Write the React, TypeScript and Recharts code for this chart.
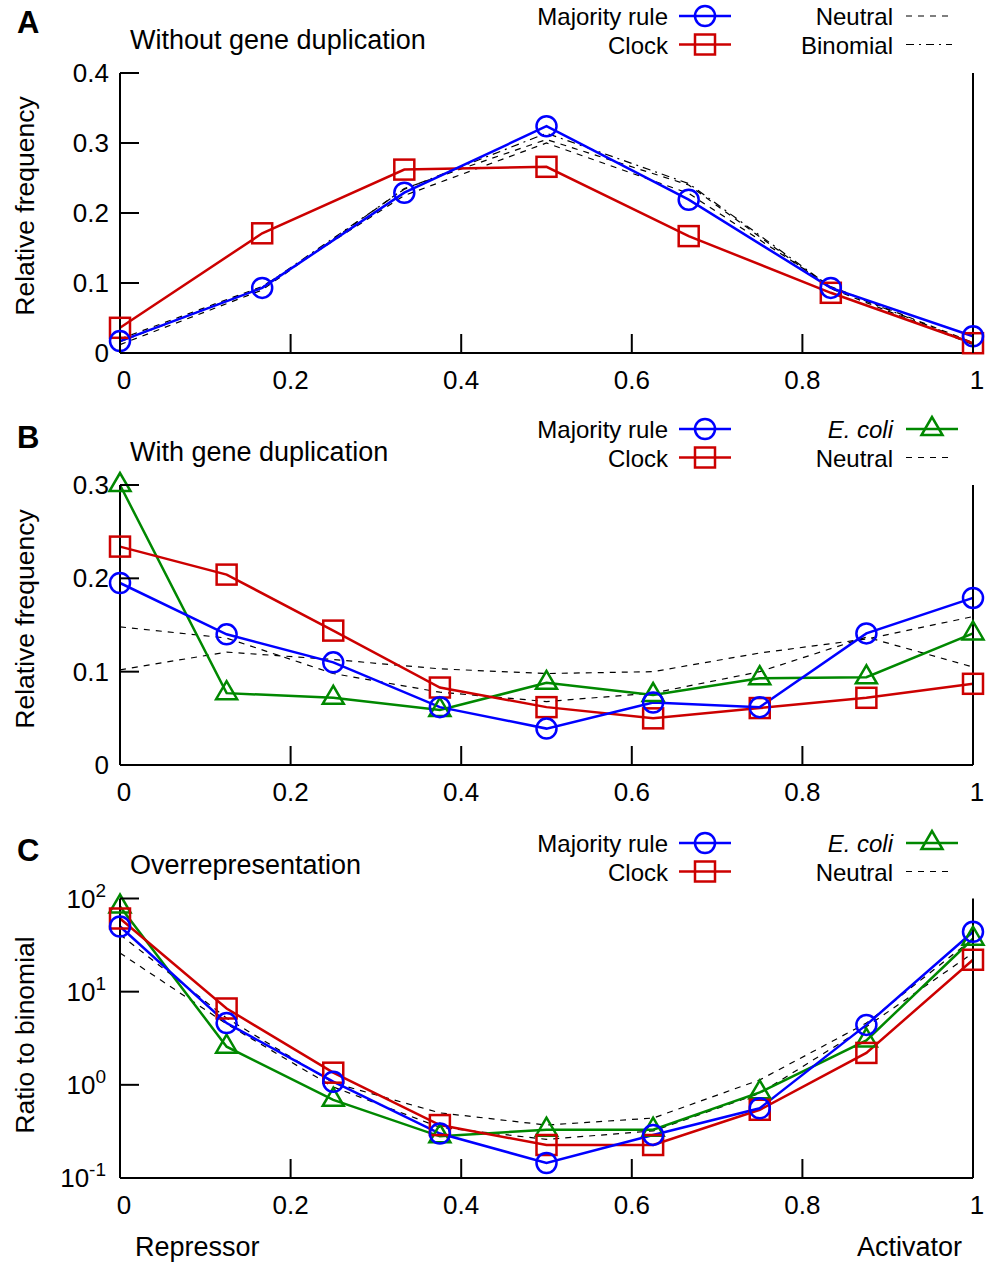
import React from "react";
import { LineChart, Line, XAxis, YAxis } from "recharts";

// panel A: 7 positions, panels B and C: 9 positions
const xA = [0, 0.1667, 0.3333, 0.5, 0.6667, 0.8333, 1];
const majorityA = [0.017, 0.093, 0.229, 0.324, 0.219, 0.093, 0.024];
const clockA = [0.036, 0.171, 0.262, 0.266, 0.167, 0.086, 0.014];
const neutralA1 = [0.012, 0.09, 0.235, 0.305, 0.24, 0.092, 0.012];
const neutralA2 = [0.02, 0.095, 0.225, 0.3, 0.228, 0.095, 0.015];
const binomialA = [0.016, 0.094, 0.234, 0.314, 0.242, 0.094, 0.014];

const xBC = [0, 0.125, 0.25, 0.375, 0.5, 0.625, 0.75, 0.875, 1];
const majorityB = [0.195, 0.14, 0.11, 0.062, 0.039, 0.067, 0.062, 0.141, 0.179];
const clockB = [0.234, 0.204, 0.144, 0.083, 0.062, 0.05, 0.061, 0.072, 0.087];
const ecoliB = [0.3, 0.077, 0.072, 0.059, 0.088, 0.075, 0.093, 0.094, 0.141];
const neutralB1 = [0.148, 0.136, 0.098, 0.078, 0.068, 0.077, 0.1, 0.137, 0.105];
const neutralB2 = [0.102, 0.121, 0.113, 0.103, 0.098, 0.1, 0.12, 0.135, 0.159];

const majorityC = [50, 4.6, 1.08, 0.3, 0.145, 0.29, 0.56, 4.4, 44];
const clockC = [61, 6.6, 1.35, 0.37, 0.226, 0.226, 0.54, 2.2, 22];
const ecoliC = [82, 2.57, 0.69, 0.28, 0.33, 0.33, 0.83, 3.0, 37];
const neutralC1 = [41, 5.2, 1.05, 0.5, 0.37, 0.44, 1.13, 4.6, 37];
const neutralC2 = [26, 4.5, 0.95, 0.35, 0.26, 0.32, 0.81, 4.2, 26];

const xTicks = [0, 0.2, 0.4, 0.6, 0.8, 1];
const yTicksA = [0, 0.1, 0.2, 0.3, 0.4];
const yTicksB = [0, 0.1, 0.2, 0.3];
const yTicksC = [0.1, 1, 10, 100];

const BLUE = "#0000ff";
const RED = "#cc0000";
const GREEN = "#008800";
const FONT = "'Liberation Sans', Arial, Helvetica, sans-serif";

const dataA = xA.map((x, i) => ({
  x,
  majority: majorityA[i],
  clock: clockA[i],
  n1: neutralA1[i],
  n2: neutralA2[i],
  binom: binomialA[i],
}));

const dataB = xBC.map((x, i) => ({
  x,
  majority: majorityB[i],
  clock: clockB[i],
  ecoli: ecoliB[i],
  n1: neutralB1[i],
  n2: neutralB2[i],
}));

const dataC = xBC.map((x, i) => ({
  x,
  majority: majorityC[i],
  clock: clockC[i],
  ecoli: ecoliC[i],
  n1: neutralC1[i],
  n2: neutralC2[i],
}));

// marker shapes
const circle = (cx: number, cy: number, key?: any) => (
  <circle key={key} cx={cx} cy={cy} r={10} fill="none" stroke={BLUE} strokeWidth={2.5} />
);
const square = (cx: number, cy: number, key?: any) => (
  <rect key={key} x={cx - 10} y={cy - 10} width={20} height={20} fill="none" stroke={RED} strokeWidth={2.5} />
);
const triangle = (cx: number, cy: number, key?: any) => (
  <polygon
    key={key}
    points={`${cx},${cy - 12} ${cx - 10.5},${cy + 6} ${cx + 10.5},${cy + 6}`}
    fill="none"
    stroke={GREEN}
    strokeWidth={2.5}
  />
);

const dotOf = (shape: any) => (p: any) => shape(p.cx, p.cy, p.index);

const fmtX = (v: number) => (v === 0 ? "0" : v === 1 ? "1" : v.toFixed(1));
const fmtY = (v: number) => (v === 0 ? "0" : v.toFixed(1));

const BottomTick = (p: any) => {
  const v = p.payload.value;
  const shift = v === 0 || v === 1 ? 4 : 0;
  return (
    <g>
      <line x1={p.x} x2={p.x} y1={p.y} y2={p.y - 19} stroke="#000" strokeWidth={2} />
      <text x={p.x + shift} y={p.y + 36} textAnchor="middle" fontSize={26} fill="#000">
        {fmtX(v)}
      </text>
    </g>
  );
};

const LeftTick = (p: any) => (
  <g>
    <line x1={p.x} x2={p.x + 19} y1={p.y} y2={p.y} stroke="#000" strokeWidth={2} />
    <text x={p.x - 11} y={p.y + 9} textAnchor="end" fontSize={26} fill="#000">
      {fmtY(p.payload.value)}
    </text>
  </g>
);

const LogTick = (p: any) => {
  const e = Math.round(Math.log10(p.payload.value));
  return (
    <g>
      <line x1={p.x} x2={p.x + 19} y1={p.y} y2={p.y} stroke="#000" strokeWidth={2} />
      <text x={p.x - 14} y={p.y + 9} textAnchor="end" fontSize={26} fill="#000">
        10
        <tspan dy={-11} fontSize={19}>
          {e}
        </tspan>
      </text>
    </g>
  );
};

const RightTick = (p: any) => (
  <line x1={p.x} x2={p.x - 19} y1={p.y} y2={p.y} stroke="#000" strokeWidth={2} />
);

const axisLine = { stroke: "#000", strokeWidth: 2 };

function Panel({ top, height, mTop, mBottom, data, yDomain, yTicks, log, children }: any) {
  const scale = log ? "log" : "auto";
  return (
    <div style={{ position: "absolute", left: 0, top }}>
      <LineChart width={995} height={height} data={data} margin={{ top: mTop, right: 0, bottom: mBottom, left: 0 }}>
        <XAxis
          dataKey="x"
          type="number"
          domain={[0, 1]}
          ticks={xTicks}
          height={50}
          tickSize={0}
          tickMargin={0}
          tickLine={false}
          axisLine={axisLine}
          tick={BottomTick}
        />
        <XAxis xAxisId="t" orientation="top" dataKey="x" type="number" domain={[0, 1]} height={0} tick={false} tickLine={false} axisLine={axisLine} />
        <YAxis
          type="number"
          scale={scale}
          domain={yDomain}
          ticks={yTicks}
          width={120}
          tickSize={0}
          tickMargin={0}
          tickLine={false}
          axisLine={axisLine}
          tick={log ? LogTick : LeftTick}
        />
        <YAxis
          yAxisId="r"
          orientation="right"
          type="number"
          scale={scale}
          domain={yDomain}
          ticks={yTicks}
          width={22}
          tickSize={0}
          tickMargin={0}
          tickLine={false}
          axisLine={axisLine}
          tick={RightTick}
        />
        {children}
      </LineChart>
    </div>
  );
}

const dashed = (key: string, dash = "6 6") => (
  <Line
    key={key}
    dataKey={key}
    type="linear"
    stroke="#000"
    strokeWidth={1.2}
    strokeDasharray={dash}
    dot={false}
    activeDot={false}
    isAnimationActive={false}
  />
);

const solid = (key: string, color: string, shape: any) => (
  <Line
    key={key}
    dataKey={key}
    type="linear"
    stroke={color}
    strokeWidth={2.5}
    dot={dotOf(shape)}
    activeDot={false}
    isAnimationActive={false}
  />
);

function LegendItem({ y, textX, label, italic, sample }: any) {
  return (
    <g>
      <text x={textX} y={y + 9} textAnchor="end" fontSize={24} fontStyle={italic ? "italic" : "normal"}>
        {label}
      </text>
      {sample}
    </g>
  );
}

const markerSample = (y: number, x1: number, x2: number, color: string, shape: any) => (
  <g>
    <line x1={x1} x2={x2} y1={y} y2={y} stroke={color} strokeWidth={2.5} />
    {shape((x1 + x2) / 2, y)}
  </g>
);

const dashSample = (y: number, dash: string) => (
  <line x1={906} x2={952} y1={y} y2={y} stroke="#000" strokeWidth={1.2} strokeDasharray={dash} />
);

function Overlay() {
  const rows = [
    { off: 0, right: "binom" },
    { off: 413, right: "ecoli" },
    { off: 827, right: "ecoli" },
  ];
  return (
    <svg width={995} height={1262} style={{ position: "absolute", left: 0, top: 0, pointerEvents: "none" }} fontFamily={FONT}>
      <text x={17} y={33} fontSize={31} fontWeight="bold">A</text>
      <text x={17} y={448} fontSize={31} fontWeight="bold">B</text>
      <text x={17} y={861} fontSize={31} fontWeight="bold">C</text>

      <text x={130} y={49} fontSize={27}>Without gene duplication</text>
      <text x={130} y={461} fontSize={27}>With gene duplication</text>
      <text x={130} y={874} fontSize={27}>Overrepresentation</text>

      {rows.map((r, i) => (
        <g key={i}>
          <LegendItem y={r.off + 16} textX={668} label="Majority rule" sample={markerSample(r.off + 16, 679, 731, BLUE, circle)} />
          <LegendItem y={r.off + 44.5} textX={668} label="Clock" sample={markerSample(r.off + 44.5, 679, 731, RED, square)} />
          {r.right === "binom" ? (
            <>
              <LegendItem y={r.off + 16} textX={893} label="Neutral" sample={dashSample(r.off + 16, "6 6")} />
              <LegendItem y={r.off + 44.5} textX={893} label="Binomial" sample={dashSample(r.off + 44.5, "8 5 2 5")} />
            </>
          ) : (
            <>
              <LegendItem y={r.off + 16} textX={893} label="E. coli" italic sample={markerSample(r.off + 16, 906, 958, GREEN, triangle)} />
              <LegendItem y={r.off + 44.5} textX={893} label="Neutral" sample={dashSample(r.off + 44.5, "6 6")} />
            </>
          )}
        </g>
      ))}

      <text x={34} y={206} fontSize={26.5} textAnchor="middle" transform="rotate(-90 34 206)">Relative frequency</text>
      <text x={34} y={619} fontSize={26.5} textAnchor="middle" transform="rotate(-90 34 619)">Relative frequency</text>
      <text x={34} y={1035} fontSize={26.5} textAnchor="middle" transform="rotate(-90 34 1035)">Ratio to binomial</text>

      <text x={135} y={1256} fontSize={27}>Repressor</text>
      <text x={962} y={1256} fontSize={27} textAnchor="end">Activator</text>
    </svg>
  );
}

export default function App() {
  return (
    <div style={{ position: "absolute", left: 0, top: 0, width: 995, height: 1262, background: "#fff", fontFamily: FONT }}>
      <Panel top={0} height={410} mTop={73} mBottom={7} data={dataA} yDomain={[0, 0.4]} yTicks={yTicksA}>
        {dashed("n1")}
        {dashed("n2")}
        {dashed("binom", "8 5 2 5")}
        {solid("clock", RED, square)}
        {solid("majority", BLUE, circle)}
      </Panel>
      <Panel top={410} height={410} mTop={75} mBottom={5} data={dataB} yDomain={[0, 0.3]} yTicks={yTicksB}>
        {dashed("n1")}
        {dashed("n2")}
        {solid("ecoli", GREEN, triangle)}
        {solid("clock", RED, square)}
        {solid("majority", BLUE, circle)}
      </Panel>
      <Panel top={820} height={442} mTop={78.5} mBottom={34} data={dataC} yDomain={[0.1, 100]} yTicks={yTicksC} log>
        {dashed("n1")}
        {dashed("n2")}
        {solid("ecoli", GREEN, triangle)}
        {solid("clock", RED, square)}
        {solid("majority", BLUE, circle)}
      </Panel>
      <Overlay />
    </div>
  );
}
